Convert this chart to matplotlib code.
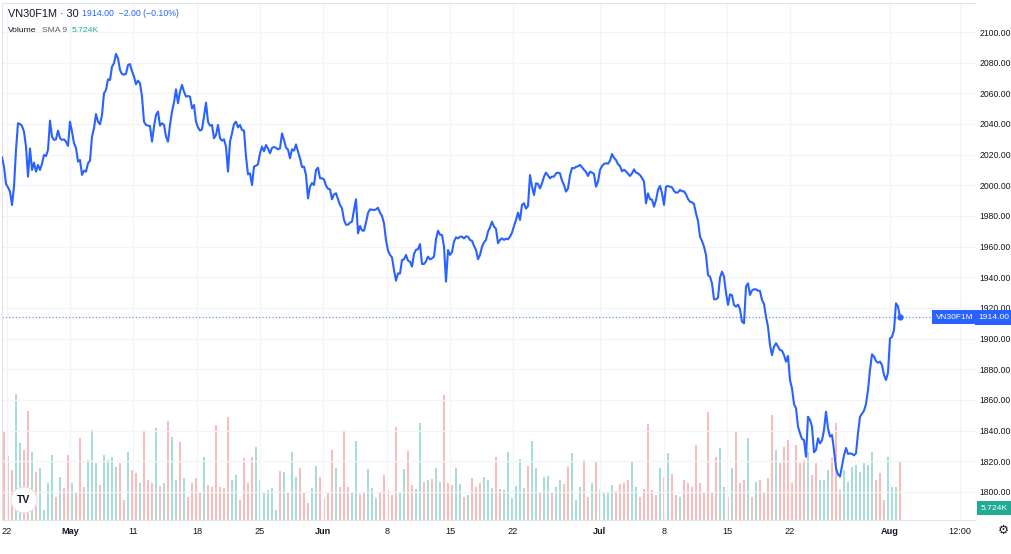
import matplotlib
matplotlib.use("Agg")
import matplotlib.pyplot as plt
from matplotlib.patches import Circle
from matplotlib.transforms import IdentityTransform, blended_transform_factory

W, H = 1012, 554

# VN30F1M, 30 minute closes
close = [
    2018.3, 2012.2, 2000.9, 1998.7, 1995.9, 1987.2, 1999.1, 2023.1, 2040.5, 2040.0,
    2038.7, 2035.0, 2025.2, 2005.7, 2024.1, 2010.0, 2014.8, 2008.9, 2013.3, 2010.0,
    2014.1, 2019.8, 2019.1, 2023.1, 2042.2, 2031.8, 2029.6, 2030.0, 2035.7, 2030.7,
    2029.6, 2030.0, 2028.5, 2025.7, 2041.5, 2035.0, 2027.4, 2024.4, 2015.5, 2016.5,
    2006.8, 2009.6, 2008.9, 2014.4, 2016.1, 2031.8, 2037.2, 2046.5, 2041.5, 2039.8,
    2045.9, 2060.0, 2062.2, 2069.1, 2068.7, 2077.4, 2079.6, 2085.7, 2082.8, 2075.2,
    2072.6, 2072.2, 2072.8, 2078.5, 2079.1, 2074.4, 2070.9, 2065.9, 2068.3, 2066.5,
    2057.8, 2041.5, 2039.4, 2038.9, 2038.7, 2028.5, 2038.3, 2045.9, 2048.1, 2038.9,
    2040.5, 2039.4, 2031.8, 2028.5, 2039.4, 2048.1, 2054.1, 2062.6, 2053.5, 2061.1,
    2065.5, 2061.1, 2057.8, 2058.3, 2057.8, 2050.2, 2052.4, 2041.5, 2037.8, 2035.7,
    2036.5, 2044.8, 2053.9, 2041.5, 2038.9, 2039.4, 2030.7, 2032.8, 2039.4, 2030.7,
    2029.1, 2030.0, 2025.2, 2008.9, 2028.5, 2033.9, 2040.0, 2041.5, 2037.8, 2039.4,
    # mid May - early June
    2036.1, 2035.7, 2018.7, 2007.2, 2007.8, 2000.2, 2012.2, 2012.8, 2013.7, 2020.9,
    2025.2, 2022.2, 2026.3, 2024.1, 2020.9, 2024.4, 2025.0, 2024.4, 2023.5, 2024.1,
    2033.9, 2029.6, 2024.6, 2023.3, 2017.6, 2023.5, 2022.6, 2026.7, 2022.0, 2017.6,
    2012.0, 2012.2, 2006.7, 1991.5, 1999.1, 2001.5, 2000.2, 2010.0, 2011.5, 2004.6,
    2004.6, 2003.9, 1999.8, 1997.8, 1997.4, 1990.9, 1994.1, 1994.8, 1991.1, 1987.2,
    1985.0, 1977.4, 1974.3, 1974.3, 1975.7, 1976.3, 1983.9, 1990.9, 1968.7, 1973.5,
    1970.6, 1970.4, 1975.7, 1982.0, 1984.3, 1984.1, 1983.9, 1984.3, 1985.4, 1982.2,
    1980.0, 1975.2, 1964.3, 1957.4, 1954.6, 1953.0, 1944.8, 1937.8, 1942.6, 1942.4,
    1951.3, 1951.7, 1954.6, 1950.9, 1950.2, 1947.0, 1955.2, 1958.0, 1958.3, 1961.7,
    1948.7, 1948.7, 1950.4, 1953.5, 1951.7, 1952.4, 1953.5, 1964.8, 1970.4, 1967.8,
    1967.6, 1960.0, 1937.2, 1957.8, 1954.6, 1956.5, 1963.3, 1966.1, 1965.4, 1966.5,
    1966.5, 1965.4, 1966.7, 1966.5, 1964.3,
    # late June - mid July
    1963.9, 1960.5, 1957.9, 1951.8, 1954.6, 1960.0, 1962.8, 1964.4, 1969.8, 1972.6,
    1976.3, 1973.1, 1971.6, 1962.2, 1964.4, 1965.4, 1964.4, 1965.2, 1964.8, 1966.5,
    1969.1, 1973.5, 1977.4, 1982.2, 1977.4, 1987.2, 1988.3, 1984.8, 1986.5, 2006.7,
    1999.1, 1993.7, 2001.3, 2000.9, 1998.0, 2001.3, 2005.7, 2008.3, 2006.5, 2004.6,
    2005.7, 2005.7, 2007.8, 2008.3, 2007.8, 2003.0, 2000.2, 1995.9, 1998.0, 2006.7,
    2011.3, 2011.1, 2012.0, 2012.4, 2013.3, 2011.7, 2010.2, 2008.7, 2006.1, 2008.9,
    2008.3, 2007.4, 1999.1, 2002.4, 2010.0, 2012.6, 2013.9, 2014.4, 2014.1, 2016.1,
    2020.4, 2018.0, 2016.5, 2013.7, 2012.6, 2009.1, 2010.2, 2009.1, 2007.6, 2006.1,
    2007.8, 2010.4, 2008.3, 2007.8, 2006.7, 2004.8, 2002.4, 1988.3, 1994.8, 1990.9,
    1990.7, 1986.1, 1990.4, 1997.0, 1999.6, 1994.8, 1987.2, 1999.1, 1999.6, 1999.1,
    1998.7, 1996.3, 1995.2, 1995.4, 1997.0, 1996.1, 1996.1, 1994.1, 1991.1, 1989.3,
    1988.9, 1987.8, 1981.7, 1976.8, 1966.5,
    # mid July - August
    1963.7, 1960.0, 1954.6, 1941.5, 1940.4, 1936.1, 1925.7, 1925.7, 1926.7, 1939.8,
    1943.7, 1940.4, 1930.0, 1922.0, 1928.9, 1928.3, 1922.0, 1920.9, 1922.2, 1919.1,
    1911.1, 1910.0, 1933.9, 1936.1, 1928.5, 1931.5, 1932.2, 1932.2, 1931.3, 1931.1,
    1925.2, 1922.6, 1914.3, 1907.8, 1895.9, 1889.3, 1894.8, 1897.0, 1894.8, 1892.6,
    1892.2, 1889.3, 1885.0, 1888.7, 1873.0, 1867.6, 1857.4, 1854.6, 1842.6, 1838.3,
    1834.6, 1833.9, 1823.0, 1849.1, 1847.0, 1842.6, 1825.9, 1827.4, 1835.0, 1831.7,
    1833.7, 1840.4, 1852.4, 1841.5, 1836.1, 1837.2, 1827.4, 1815.4, 1811.5, 1810.0,
    1817.0, 1823.9, 1828.7, 1824.8, 1825.2, 1824.8, 1823.9, 1825.2, 1838.3, 1849.1,
    1851.1, 1853.0, 1857.4, 1866.5, 1879.6, 1889.8, 1888.3, 1885.4, 1884.3, 1885.0,
    1882.8, 1876.3, 1873.0, 1877.8, 1900.2, 1901.1, 1905.7, 1923.0, 1921.0, 1914.0,
]

# volume in thousands of contracts, one value for every second bar
volume = [
    7.36, 5.33, 4.17, 10.5, 6.39, 5.83, 9.11, 5.69, 4.03, 4.31,
    0.83, 3.06, 5.42, 1.94, 3.61, 2.64, 5.42, 3.06, 2.36, 6.81,
    2.78, 5.0, 7.5, 4.72, 2.92, 5.42, 5.0, 5.22, 4.44, 4.72,
    1.67, 5.69, 4.17, 3.89, 3.06, 7.5, 3.33, 3.06, 7.64, 2.83,
    3.06, 8.28, 6.94, 3.33, 6.53, 3.47, 1.94, 3.06, 3.47, 2.22,
    5.28, 2.92, 2.78, 7.92, 2.78, 2.64, 8.56, 3.33, 3.75, 1.67,
    5.14, 3.06, 5.28, 6.11, 3.33, 2.22, 2.5, 2.64, 0.83, 4.11,
    4.03, 2.36, 5.69, 3.61, 4.31, 2.22, 1.39,
    2.64, 4.5, 3.61, 1.81, 2.22, 5.83, 4.31, 2.72, 7.5, 2.72,
    2.22, 6.61, 2.14, 2.36, 4.22, 2.69, 1.81, 2.22, 3.75, 2.5,
    2.08, 7.78, 2.22, 4.25, 5.78, 2.92, 2.56, 8.11, 3.14, 3.33,
    3.39, 4.31, 3.19, 10.42, 3.11, 2.92, 4.31, 3.0, 1.94, 2.08,
    3.47, 2.78, 3.06, 3.61, 3.33, 2.64, 5.28, 2.56, 2.5, 5.69,
    1.81, 2.83, 5.06, 2.64, 4.5, 6.61, 4.31, 2.36, 3.61, 3.67,
    2.22, 2.72, 3.33, 3.0, 4.39, 5.61, 1.67, 2.78, 5.0, 1.94,
    3.06, 4.86, 2.5, 2.22, 2.36,
    2.92, 2.44, 3.0, 3.06, 3.33, 4.94, 2.72, 1.94, 2.56, 8.0,
    2.5, 2.08, 4.31, 3.56, 5.61, 3.83, 2.08, 1.94, 3.33, 3.06,
    2.78, 6.25, 3.06, 2.22, 9.03, 2.36, 5.28, 5.97, 2.78, 1.94,
    4.31, 7.36, 3.06, 3.33, 6.81, 1.89, 3.19, 3.33, 2.22, 3.47,
    8.75, 5.83, 4.72, 6.11, 6.67, 3.06, 6.25, 4.72, 5.0, 5.69,
    3.75, 4.72, 3.33, 3.33, 4.17, 5.14, 8.06, 2.5, 4.17, 3.19,
    4.44, 4.58, 4.03, 4.72, 4.58, 5.69, 3.33, 3.89, 1.67, 5.22,
    2.78, 2.72, 4.86,
]

tick_labels = ["22", "May", "11", "18", "25", "Jun", "8", "15", "22",
               "Jul", "8", "15", "22", "Aug", "12:00"]
tick_bars = [2.5, 34, 65.5, 97.5, 129, 160.5, 192.5, 224, 255.5,
             299, 331, 362.5, 394, 444, 479]
months = {"May", "Jun", "Jul", "Aug"}

price_ticks = list(range(1800, 2101, 20))

BLUE = "#2962ff"
TEXT = "#131722"
GRID = "#f2f4f9"
BORDER = "#e0e3eb"
UP = "#a8dcd6"
DOWN = "#fabcba"

plt.rcParams["font.family"] = ["Liberation Sans", "DejaVu Sans"]

fig = plt.figure(figsize=(W / 100, H / 100), dpi=100)
fig.patch.set_facecolor("white")
rect = [2 / W, 34 / H, 973 / W, 517 / H]

# volume pane underneath
axv = fig.add_axes(rect)
vol_x = [2 * k + 1 for k in range(len(volume))]
vol_c = []
for i in vol_x:
    prev = close[i - 2] if i >= 2 else close[0]
    vol_c.append(UP if close[i] >= prev else DOWN)
axv.bar(vol_x, volume, width=1.0, color=vol_c, linewidth=0)
axv.set_ylim(0, 517 / 12)
axv.set_xlim(0, 486.5)
axv.axis("off")

# price pane on top
ax = fig.add_axes(rect)
ax.patch.set_visible(False)
ax.plot(range(len(close)), close, color=BLUE, lw=1.5, solid_joinstyle="round", zorder=3)
ax.plot([len(close) - 1], [close[-1]], "o", color=BLUE, ms=3.5, zorder=4)
ax.axhline(close[-1], color=BLUE, lw=0.8, ls=(0, (1, 2)), alpha=0.8, zorder=2)
ax.set_xlim(0, 486.5)
ax.set_ylim(2100 - 488 / 1.5333, 2100 + 29 / 1.5333)

ax.set_xticks(tick_bars)
ax.set_xticklabels(tick_labels)
for lab in ax.get_xticklabels():
    if lab.get_text() in months:
        lab.set_fontweight("bold")
ax.yaxis.tick_right()
ax.set_yticks(price_ticks)
ax.set_yticklabels([f"{p:.2f}" for p in price_ticks])
ax.tick_params(axis="both", length=0, colors=TEXT)
ax.tick_params(axis="x", pad=5, labelsize=6.6)
ax.tick_params(axis="y", pad=3, labelsize=6.2)
ax.grid(True, color=GRID, lw=0.9)
for side in ["left", "top", "bottom"]:
    ax.spines[side].set_color(BORDER)
    ax.spines[side].set_linewidth(0.8)
ax.spines["right"].set_visible(False)

# last price labels on the scale
tr = blended_transform_factory(fig.transFigure, ax.transData)
ax.text(955 / W, close[-1], "VN30F1M", transform=tr, ha="center", va="center",
        color="white", fontsize=6.0, zorder=5,
        bbox=dict(boxstyle="square,pad=0.45", fc=BLUE, ec="none"))
ax.text(994 / W, close[-1], f"{close[-1]:.2f}", transform=tr, ha="center", va="center",
        color="white", fontsize=6.1, zorder=5,
        bbox=dict(boxstyle="square,pad=0.45", fc=BLUE, ec="none"))
fig.text(994 / W, 1 - 508 / H, "5.724K", ha="center", va="center", color="white",
         fontsize=6.1, bbox=dict(boxstyle="square,pad=0.45", fc="#22ab94", ec="none"))

# legend lines
fig.text(8 / W, 1 - 14 / H, "VN30F1M · 30", color=TEXT, fontsize=7.8, va="center")
fig.text(82 / W, 1 - 14 / H, "1914.00  −2.00 (−0.10%)", color=BLUE, fontsize=6.3, va="center")
fig.text(8 / W, 1 - 30 / H, "Volume", color=TEXT, fontsize=6.1, va="center")
fig.text(42 / W, 1 - 30 / H, "SMA 9", color="#5d606b", fontsize=6.1, va="center")
fig.text(72 / W, 1 - 30 / H, "5.724K", color="#22ab94", fontsize=6.1, va="center")

# logo and settings icon
logo = Circle((24, H - 500), 13, transform=IdentityTransform(), fc="white",
              ec="#e0e3eb", lw=0.8, zorder=10)
fig.add_artist(logo)
fig.text(24 / W, 1 - 500 / H, "TV", ha="center", va="center", fontsize=7.5,
         fontweight="bold", color=TEXT, zorder=11)
fig.text(1003 / W, 1 - 530 / H, "⚙", ha="center", va="center", fontsize=9,
         color=TEXT, family="DejaVu Sans")

fig.savefig("out.png", dpi=100)
